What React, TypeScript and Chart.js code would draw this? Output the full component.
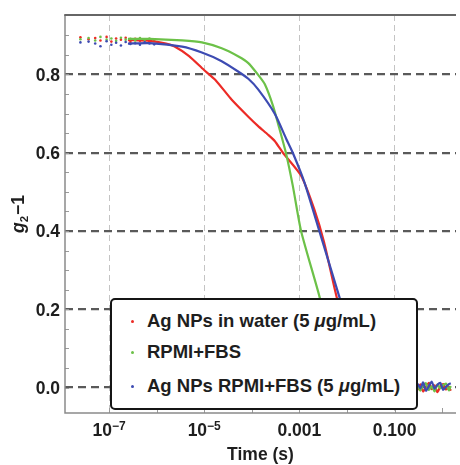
import React, { useEffect, useRef } from 'react';
import { Chart, registerables } from 'chart.js';

Chart.register(...registerables);

// ---------- axis ranges & ticks ----------
const X_MIN = 1.19e-8;
const X_MAX = 1.95;
const Y_MIN = -0.065;
const Y_MAX = 0.952;

const xDecades = [1e-7, 1e-6, 1e-5, 1e-4, 1e-3, 1e-2, 1e-1, 1];
const xMajorTicks = [1e-7, 1e-5, 1e-3, 1e-1];
const xTickBase = ['10', '10', '0.001', '0.100'];
const xTickExp = ['−7', '−5', '', ''];
const yTicks = [0, 0.2, 0.4, 0.6, 0.8];
const yTickLabels = ['0.0', '0.2', '0.4', '0.6', '0.8'];
const yMinorTicks = [0, 0.05, 0.1, 0.15, 0.2, 0.25, 0.3, 0.35, 0.4, 0.45, 0.5, 0.55, 0.6, 0.65, 0.7, 0.75, 0.8, 0.85, 0.9];

const xTitle = 'Time (s)';

// ---------- series ----------
const legendParts = [
  ['Ag NPs in water (5 ', 'μ', 'g/mL)'],
  ['RPMI+FBS', '', ''],
  ['Ag NPs RPMI+FBS (5 ', 'μ', 'g/mL)'],
];
const colors = ['#ec2b26', '#6cc148', '#3d4bb2'];

// early scattered points (plateau)
const plateauTimes = [2.51e-8, 3.72e-8, 5.13e-8, 6.61e-8, 8.91e-8, 1.12e-7, 1.41e-7, 1.78e-7, 2.24e-7, 2.82e-7, 3.55e-7, 4.47e-7, 5.62e-7, 7.08e-7, 8.91e-7];
const plateauRed = [0.895, 0.890, 0.893, 0.887, 0.896, 0.884, 0.892, 0.889, 0.894, 0.883, 0.891, 0.886, 0.890, 0.885, 0.888];
const plateauGreen = [0.890, 0.893, 0.887, 0.896, 0.889, 0.892, 0.886, 0.894, 0.889, 0.891, 0.887, 0.893, 0.889, 0.892, 0.890];
const plateauBlue = [0.882, 0.884, 0.879, 0.872, 0.885, 0.876, 0.881, 0.874, 0.883, 0.878, 0.880, 0.876, 0.882, 0.879, 0.877];

// decay curves
const redTimes = [2.5e-7, 7.1e-7, 1.58e-6, 2.34e-6, 4.81e-6, 9.8e-6, 1.72e-5, 3.75e-5, 8.45e-5, 1.36e-4, 2.2e-4, 3.03e-4, 4.5e-4, 1.08e-3, 2.05e-3, 3.3e-3, 5.75e-3, 0.01, 0.02, 0.04, 0.1];
const redValues = [0.888, 0.886, 0.879, 0.872, 0.847, 0.812, 0.786, 0.736, 0.692, 0.668, 0.646, 0.630, 0.600, 0.542, 0.456, 0.371, 0.243, 0.13, 0.04, 0.006, 0.0];

const greenTimes = [2.5e-7, 7.1e-7, 3.44e-6, 8.93e-6, 2.33e-5, 5.25e-5, 8.45e-5, 1.36e-4, 1.88e-4, 2.79e-4, 3.8e-4, 5.2e-4, 7.26e-4, 1.08e-3, 2.61e-3, 3.98e-3, 6.31e-3, 0.01, 0.025, 0.1];
const greenValues = [0.891, 0.891, 0.887, 0.882, 0.867, 0.846, 0.829, 0.799, 0.775, 0.720, 0.662, 0.600, 0.516, 0.401, 0.235, 0.14, 0.06, 0.015, 0.0, 0.0];

const blueTimes = [2.5e-7, 7.1e-7, 3.44e-6, 8.93e-6, 2.33e-5, 5.25e-5, 8.45e-5, 1.36e-4, 3.03e-4, 5.27e-4, 7.26e-4, 1.27e-3, 2.61e-3, 6.78e-3, 0.0126, 0.025, 0.05, 0.1];
const blueValues = [0.879, 0.880, 0.871, 0.856, 0.834, 0.807, 0.789, 0.762, 0.700, 0.636, 0.600, 0.525, 0.401, 0.235, 0.13, 0.04, 0.008, 0.0];

// noisy baseline at long times
const tailTimes = [0.263, 0.302, 0.347, 0.398, 0.457, 0.525, 0.603, 0.692, 0.794, 0.912, 1.047, 1.202, 1.38, 1.514];
const tailRed = [0.004, -0.006, 0.008, -0.01, 0.002, 0.012, -0.004, 0.006, -0.012, 0.003, 0.009, -0.005, 0.001, -0.008];
const tailGreen = [-0.003, 0.007, -0.008, 0.005, 0.011, -0.006, 0.003, -0.01, 0.008, -0.002, 0.006, 0.01, -0.007, 0.004];
const tailBlue = [0.006, 0.01, -0.002, 0.013, -0.008, 0.004, 0.015, -0.003, 0.007, 0.012, -0.006, 0.002, 0.009, 0.011];

const FONT = "'Liberation Sans', Arial, sans-serif";

const toPts = (xs: number[], ys: number[]) => xs.map((x, i) => ({ x, y: ys[i] }));

const frameAndLabels = {
  id: 'frameAndLabels',
  afterDatasetsDraw(chart: any) {
    const { ctx, chartArea: a, scales } = chart;
    const xs = scales.x;
    const ys = scales.y;
    ctx.save();
    ctx.strokeStyle = '#9a9a9a';
    ctx.lineWidth = 1;
    xDecades.forEach((v) => {
      const px = Math.round(xs.getPixelForValue(v)) + 0.5;
      ctx.beginPath();
      ctx.moveTo(px, a.bottom);
      ctx.lineTo(px, a.bottom - 5);
      ctx.stroke();
    });
    yMinorTicks.forEach((v) => {
      const py = Math.round(ys.getPixelForValue(v)) + 0.5;
      ctx.beginPath();
      ctx.moveTo(a.left, py);
      ctx.lineTo(a.left + 4, py);
      ctx.stroke();
    });
    ctx.strokeStyle = '#8a8a8a';
    ctx.lineWidth = 1.5;
    ctx.beginPath();
    ctx.moveTo(a.left, a.top);
    ctx.lineTo(a.left, a.bottom);
    ctx.lineTo(a.right, a.bottom);
    ctx.stroke();
    ctx.strokeStyle = '#666';
    ctx.lineWidth = 2;
    ctx.beginPath();
    ctx.moveTo(a.left - 0.75, a.top);
    ctx.lineTo(a.right, a.top);
    ctx.stroke();
    ctx.restore();
  },
  afterDraw(chart: any) {
    const { ctx, chartArea: a, scales } = chart;
    const xs = scales.x;
    const ys = scales.y;
    ctx.save();
    ctx.fillStyle = '#1e1e1e';
    ctx.font = `bold 17.5px ${FONT}`;
    ctx.textAlign = 'right';
    ctx.textBaseline = 'alphabetic';
    yTicks.forEach((v, i) => {
      const py = ys.getPixelForValue(v);
      ctx.fillText(yTickLabels[i], a.left - 5, py + 6.3);
    });
    ctx.textAlign = 'left';
    xMajorTicks.forEach((v, i) => {
      const px = xs.getPixelForValue(v);
      ctx.font = `bold 17.5px ${FONT}`;
      const wb = ctx.measureText(xTickBase[i]).width;
      ctx.font = `bold 12px ${FONT}`;
      const we = xTickExp[i] ? ctx.measureText(xTickExp[i]).width : 0;
      const start = px - (wb + we) / 2;
      ctx.font = `bold 17.5px ${FONT}`;
      ctx.fillText(xTickBase[i], start, 436);
      if (xTickExp[i]) {
        ctx.font = `bold 12px ${FONT}`;
        ctx.fillText(xTickExp[i], start + wb, 429.5);
      }
    });
    ctx.font = `bold 17.5px ${FONT}`;
    ctx.textAlign = 'center';
    ctx.fillText(xTitle, (a.left + a.right) / 2, 460);
    ctx.translate(24, (a.top + a.bottom) / 2);
    ctx.rotate(-Math.PI / 2);
    ctx.textAlign = 'left';
    ctx.font = `italic bold 17.5px ${FONT}`;
    const w1 = ctx.measureText('g').width;
    ctx.font = `bold 11.5px ${FONT}`;
    const w2 = ctx.measureText('2').width;
    ctx.font = `bold 17.5px ${FONT}`;
    const w3 = ctx.measureText('−1').width;
    const total = w1 + w2 + w3 + 1;
    let sx = -total / 2;
    ctx.font = `italic bold 17.5px ${FONT}`;
    ctx.fillText('g', sx, 0);
    sx += w1;
    ctx.font = `bold 11.5px ${FONT}`;
    ctx.fillText('2', sx, 4);
    sx += w2 + 1;
    ctx.font = `bold 17.5px ${FONT}`;
    ctx.fillText('−1', sx, 0);
    ctx.restore();
  },
};

export default function App() {
  const canvasRef = useRef<HTMLCanvasElement | null>(null);

  useEffect(() => {
    if (!canvasRef.current) return;
    const lineSets = [
      { t: redTimes, v: redValues, tail: tailRed, pv: plateauRed, c: colors[0], order: 4 },
      { t: greenTimes, v: greenValues, tail: tailGreen, pv: plateauGreen, c: colors[1], order: 2 },
      { t: blueTimes, v: blueValues, tail: tailBlue, pv: plateauBlue, c: colors[2], order: 0 },
    ];
    const datasets: any[] = [];
    lineSets.forEach((s, i) => {
      datasets.push({
        label: legendParts[i].join(''),
        data: [...toPts(s.t, s.v), ...toPts(tailTimes, s.tail)],
        showLine: true,
        borderColor: s.c,
        backgroundColor: s.c,
        borderWidth: 2.2,
        pointRadius: 0,
        tension: 0.2,
        order: s.order,
      });
      datasets.push({
        label: legendParts[i].join('') + ' points',
        data: toPts(plateauTimes, s.pv),
        showLine: false,
        backgroundColor: s.c,
        borderWidth: 0,
        pointRadius: 1.3,
        order: s.order + 1,
      });
    });

    const chart = new Chart(canvasRef.current, {
      type: 'scatter',
      data: { datasets },
      options: {
        responsive: false,
        animation: false,
        devicePixelRatio: 1,
        layout: { padding: { left: 0, right: 0, top: 15, bottom: 0 } },
        plugins: { legend: { display: false }, tooltip: { enabled: false } },
        scales: {
          x: {
            type: 'logarithmic',
            min: X_MIN,
            max: X_MAX,
            afterBuildTicks: (s: any) => {
              s.ticks = xMajorTicks.map((v) => ({ value: v }));
            },
            afterFit: (s: any) => {
              s.height = 52;
            },
            ticks: { display: false },
            grid: { color: '#c4c4c4', lineWidth: 1, drawTicks: false },
            border: { display: false, dash: [6, 4] },
          },
          y: {
            type: 'linear',
            min: Y_MIN,
            max: Y_MAX,
            afterBuildTicks: (s: any) => {
              s.ticks = yTicks.map((v) => ({ value: v }));
            },
            afterFit: (s: any) => {
              s.width = 65;
            },
            ticks: { display: false },
            grid: { color: '#5a5a5a', lineWidth: 2.2, drawTicks: false },
            border: { display: false, dash: [8, 5] },
          },
        },
      },
      plugins: [frameAndLabels],
    });
    return () => chart.destroy();
  }, []);

  const rowTops = [321, 352, 386];
  return (
    <div style={{ position: 'absolute', left: 0, top: 0, width: 460, height: 465, background: '#fff', overflow: 'hidden' }}>
      <canvas ref={canvasRef} width={460} height={465} style={{ display: 'block' }} />
      <div
        style={{
          position: 'absolute',
          left: 110,
          top: 298,
          width: 308,
          height: 112,
          boxSizing: 'border-box',
          border: '2px solid #151515',
          borderRadius: 5,
          background: '#fff',
          fontFamily: FONT,
          fontWeight: 'bold',
          fontSize: 18.5,
          color: '#1e1e1e',
        }}
      >
        {legendParts.map((parts, i) => (
          <div key={i} style={{ position: 'absolute', left: 0, top: rowTops[i] - 298 - 2, width: '100%', height: 0 }}>
            <span
              style={{
                position: 'absolute',
                left: 19,
                top: -1.5,
                width: 3,
                height: 3,
                borderRadius: '50%',
                background: colors[i],
              }}
            />
            <span style={{ position: 'absolute', left: 35, top: -11, whiteSpace: 'nowrap', lineHeight: '22px' }}>
              {parts[0]}
              {parts[1] ? <i>{parts[1]}</i> : null}
              {parts[2]}
            </span>
          </div>
        ))}
      </div>
    </div>
  );
}
